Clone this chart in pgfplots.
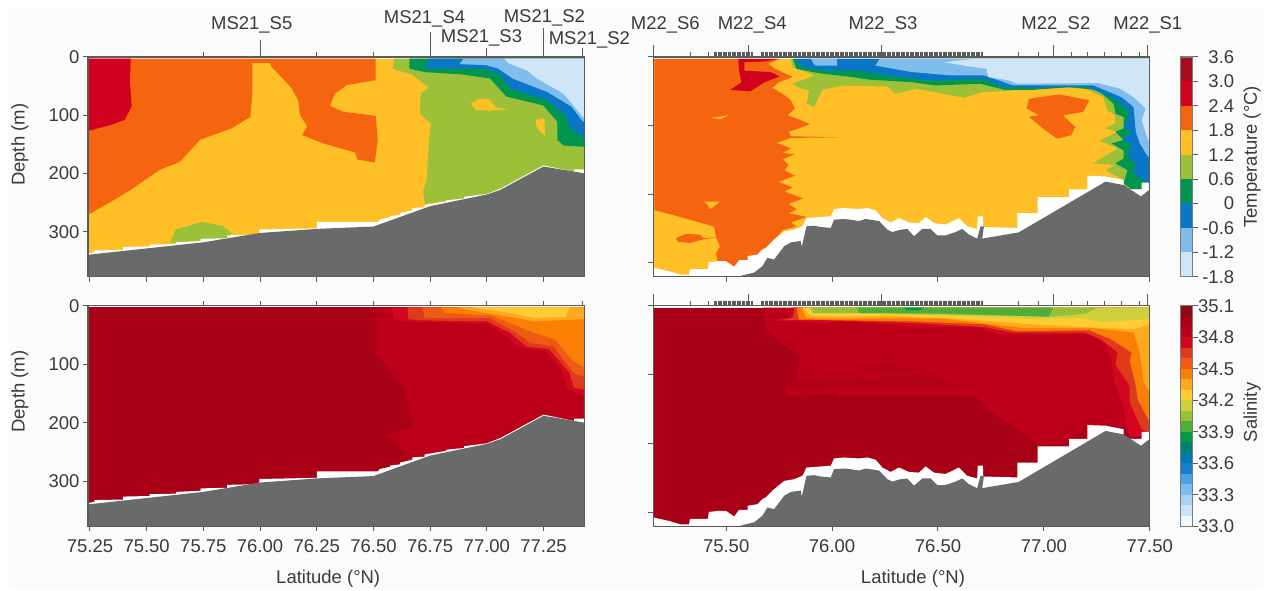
\documentclass[border=0pt]{standalone}
\usepackage{pgfplots}
\pgfplotsset{compat=1.18}
\usepackage{fontspec}
\setmainfont{Liberation Sans}
\definecolor{txt}{HTML}{3A3A3A}
\definecolor{axc}{HTML}{5A5C5C}
\definecolor{bathy}{HTML}{696B6B}
\definecolor{bgc}{HTML}{FBFBFB}
% temperature
\definecolor{t1}{HTML}{CFE6F8}\definecolor{t2}{HTML}{80BDEC}\definecolor{t3}{HTML}{0A76C8}
\definecolor{t4}{HTML}{00964F}\definecolor{t5}{HTML}{9CC138}\definecolor{t6}{HTML}{FFBF26}
\definecolor{t7}{HTML}{F5640F}\definecolor{t8}{HTML}{D0021F}\definecolor{t9}{HTML}{A50D1F}
% salinity (33.0 ... 35.1)
\definecolor{s00}{HTML}{EEF6FE}\definecolor{s01}{HTML}{C9E3F9}\definecolor{s02}{HTML}{A6D2F4}
\definecolor{s03}{HTML}{7FBCEC}\definecolor{s04}{HTML}{4FA0E0}\definecolor{s05}{HTML}{1580D0}
\definecolor{s06}{HTML}{0078B0}\definecolor{s07}{HTML}{008070}\definecolor{s08}{HTML}{009A45}
\definecolor{s09}{HTML}{4FAE3A}\definecolor{s10}{HTML}{98BF38}\definecolor{s11}{HTML}{CFD03C}
\definecolor{s12}{HTML}{FFCD33}\definecolor{s13}{HTML}{FFA91E}\definecolor{s14}{HTML}{FB7F05}
\definecolor{s15}{HTML}{EE5C14}\definecolor{s16}{HTML}{DE3A1C}\definecolor{s17}{HTML}{D2071F}
\definecolor{s18}{HTML}{BC0019}\definecolor{s19}{HTML}{A80016}\definecolor{s20}{HTML}{8B0A14}
\definecolor{smid}{HTML}{B20018}

\newcommand{\poly}[2]{\addplot[fill=#1,draw=none] coordinates {#2} --cycle;}
\newcommand{\lab}{\fontsize{18.5}{20}\selectfont}

\newcommand{\stepA}{\poly{white}{(75.241,337)(75.27,335)(75.27,332)(75.396,331)(75.396,326)(75.513,325)(75.513,322)(75.63,321)(75.63,318)(75.738,316)(75.738,312)(75.855,311)(75.855,306)(75.97,305)(75.997,302)(75.997,296)(76.25,294)(76.25,283)(76.519,283)(76.528,279)(76.573,275)(76.573,273)(76.618,271)(76.618,268)(76.672,263)(76.672,259)(76.726,258)(76.726,254)(76.82,248)(76.82,246)(76.9,243)(76.9,240)(77.0,235)(77.06,226)(77.25,186)(77.385,197)(77.385,193)(77.43,193)(77.43,377)(75.241,377)}}
\newcommand{\bathyA}{\poly{bathy}{(75.241,340)(75.25,339)(75.75,318)(76,302)(76.25,295)(76.5,291)(76.75,256)(77,236)(77.06,228)(77.25,188)(77.42,199)(77.43,200)(77.43,377)(75.241,377)}}
\newcommand{\stepB}{\poly{white}{(75.156,307)(75.23,312)(75.285,317)(75.325,317)(75.329,309)(75.414,309)(75.418,299)(75.467,297.3)(75.498,297.3)(75.538,305.6)(75.561,296)(75.601,296)(75.601,290)(75.648,287.7)(75.671,280.4)(75.687,278)(75.726,266)(75.774,254)(75.821,251.5)(75.86,246.6)(75.879,234.6)(75.994,232)(76.009,221.5)(76.057,220)(76.127,221.5)(76.167,220)(76.206,223.4)(76.237,234.6)(76.277,241)(76.316,234.6)(76.363,241)(76.41,242)(76.442,233)(76.481,242)(76.536,244)(76.599,234.6)(76.638,246.6)(76.685,250.5)(76.688,232)(76.712,232)(76.714,247.6)(76.875,249)(76.875,227.5)(76.971,227.5)(76.971,204)(77.119,204)(77.119,193)(77.205,193)(77.205,173)(77.291,174)(77.376,179)(77.376,193)(77.462,193)(77.462,183)(77.5,183)(77.5,320)(75.156,320)}}
\newcommand{\bathyB}{\poly{bathy}{(75.56,320)(75.577,318)(75.632,314)(75.671,304.6)(75.695,292.5)(75.726,295)(75.774,275.6)(75.805,270)(75.852,268)(75.857,276.6)(75.879,246.6)(75.915,245.7)(75.946,247.6)(75.994,249)(76.009,237)(76.057,236)(76.088,237)(76.127,239)(76.159,236)(76.222,239)(76.261,251.5)(76.284,255)(76.324,251.5)(76.355,250.5)(76.387,261)(76.426,250.5)(76.465,250.5)(76.497,260)(76.536,260)(76.583,255)(76.615,250.5)(76.646,258.7)(76.685,264.5)(76.701,246.6)(76.717,246.6)(76.709,264.5)(76.881,255.5)(77.291,181.6)(77.376,186.5)(77.458,203)(77.496,194)(77.5,192)(77.5,320)}}

\pgfplotsset{
  panel/.style={scale only axis,anchor=south west,width=497pt,y dir=reverse,axis on top,
    axis line style={color=axc,line width=1.2pt},
    tick align=outside,major tick length=5pt,
    tick style={color=axc,line width=1pt},
    tick label style={font=\lab,text=txt},
    xticklabel style={yshift=-5pt},
    label style={font=\lab,text=txt},
    ymin=0,ytick pos=left,xtick pos=lower,xticklabel pos=lower},
  leftp/.style={panel,xmin=75.241,xmax=77.43,ymax=377,height=220pt,
    xtick={75.25,75.5,75.75,76,76.25,76.5,76.75,77,77.25},
    ytick={0,100,200,300},yticklabels={0,100,200,300},
    ylabel={Depth (m)},ylabel style={at={(axis description cs:-0.137,0.6)},anchor=center}},
  rightp/.style={panel,xmin=75.156,xmax=77.5,ymax=320,height=220pt,
    xtick={75.5,76,76.5,77,77.5},
    ytick={0,100,200,300},yticklabels={}},
  rug/.style={scale only axis,anchor=south west,width=497pt,height=220pt,ymin=0,ymax=1,ytick=\empty,
    axis line style={draw=none},tick align=outside,xtick pos=upper,xticklabels={},clip=false,
    tick style={color=axc,line width=0.8pt},major tick length=5pt},
  cbar/.style={scale only axis,anchor=south west,width=12pt,xmin=0,xmax=1,xtick=\empty,
    axis on top,ytick pos=right,yticklabel pos=right,tick align=outside,major tick length=5pt,
    axis line style={color=axc!80,line width=1.3pt},
    tick style={color=axc,line width=1pt},
    tick label style={font=\lab,text=txt},
    yticklabel style={anchor=east,xshift=40pt},
    label style={font=\lab,text=txt}}
}
\newcommand{\ruglong}[1]{\draw[color=axc,line width=1pt] (axis cs:#1,1) -- ++(0pt,12pt);}
\newcommand{\tick}[2]{\draw[color=axc,line width=1pt] (axis cs:#1,1) -- ++(0pt,#2pt);}

\begin{document}
\begin{tikzpicture}[x=1pt,y=1pt]
\path[fill=white] (0,0) rectangle (1264,590);
\path[fill=bgc] (9,0) rectangle (1264,581);

% ---------- Panel A: temperature MS21
\begin{axis}[leftp,at={(88pt,313pt)},xticklabels={}]
\poly{t6}{(75.241,3)(77.43,3)(77.43,377)(75.241,377)}
\poly{t7}{(75.241,3)(76.51,3)(76.51,40)(76.384,48)(76.33,63)(76.308,84)(76.366,94)(76.51,101)(76.519,142)(76.506,181)(76.429,176)(76.42,164)(76.276,148)(76.186,134)(76.208,119)(76.177,100)(76.168,74)(76.136,52)(76.051,17)(76.042,10)(75.966,10)(75.966,63)(75.957,103)(75.871,123)(75.736,142)(75.646,180)(75.556,194)(75.43,228)(75.358,245)(75.241,271)}
\poly{t8}{(75.241,3)(75.43,3)(75.426,40)(75.434,85)(75.403,108)(75.34,117)(75.241,127)}
\poly{t5}{(76.591,3)(76.586,20)(76.672,31)(76.744,52)(76.708,63)(76.704,97)(76.753,114)(76.744,148)(76.735,211)(76.719,231)(76.726,252)(76.88,243)(77,237)(77,377)(77.43,377)(77.43,3)}
\poly{t6}{(76.928,80)(76.969,72)(77.009,72)(77.041,87)(77.095,90)(77.014,92)(76.951,91)}
\poly{t6}{(77.216,108)(77.253,105)(77.257,136)(77.234,128)(77.216,117)}
\poly{t5}{(75.606,316)(75.628,296)(75.745,283)(75.835,290)(75.876,302)(75.853,311)(75.606,319)}
\poly{t4}{(76.658,3)(76.658,20)(76.726,26)(76.888,30)(77.014,37)(77.086,68)(77.248,83)(77.311,111)(77.311,142)(77.338,152)(77.424,154)(77.43,154)(77.43,3)}
\poly{t3}{(76.744,3)(76.726,20)(76.996,20)(77.059,31)(77.104,54)(77.266,74)(77.347,100)(77.37,123)(77.424,137)(77.43,137)(77.43,3)}
\poly{t2}{(76.897,3)(76.879,12.5)(76.996,14)(77.05,20)(77.113,37)(77.266,60)(77.374,85.5)(77.424,111)(77.43,111)(77.43,3)}
\poly{t1}{(77.077,3)(77.095,11)(77.176,23)(77.221,37)(77.338,63)(77.424,103)(77.43,103)(77.43,3)}
\stepA
\bathyA
\end{axis}
\begin{axis}[rug,at={(88pt,313pt)},xmin=75.241,xmax=77.43,xtick={75.75,76.25,76.5}]
\tick{76}{17}
\tick{76.75}{25}
\tick{77}{9}
\tick{77.25}{29}
\tick{77.42}{9}
\end{axis}

% ---------- Panel B: temperature M22
\begin{axis}[rightp,at={(654pt,313pt)},xticklabels={}]
\poly{t6}{(75.156,3)(77.5,3)(77.5,320)(75.156,320)}
\poly{t7}{(75.161,3)(75.748,3)(75.70,10)(75.729,17)(75.814,29)(75.748,37)(75.719,45)(75.776,56)(75.805,63)(75.824,75)(75.79,85)(75.852,92)(75.894,98)(75.843,104)(75.795,109)(75.805,115.5)(76.033,117)(75.805,118)(75.738,125)(75.805,133)(75.767,140)(75.824,141.5)(75.767,149)(75.795,157)(75.776,165)(75.824,173)(75.748,182)(75.814,190)(75.776,196)(75.862,206)(75.795,214)(75.833,222)(75.795,227.5)(75.881,233)(75.805,241)(75.833,247)(75.767,252)(75.729,266)(75.70,278)(75.662,290)(75.548,305)(75.462,302)(75.452,285.5)(75.471,276)(75.452,262)(75.443,247)(75.271,232)(75.161,223)}
\poly{t6}{(75.433,88.4)(75.51,85)(75.471,91)}
\poly{t6}{(75.395,210.6)(75.471,210.6)(75.424,221.7)(75.409,214)}
\poly{t7}{(75.262,264)(75.31,257.5)(75.376,259)(75.395,264)(75.471,262)(75.386,266)(75.329,271)(75.271,269)}
\poly{t7}{(76.929,61)(77.072,54.6)(77.214,63)(77.186,80)(77.09,85)(77.148,102)(77.129,114)(77.062,119)(76.995,104)(76.929,87)(76.976,85)(76.919,75)}
\poly{t8}{(75.557,3)(75.752,3)(75.672,6.8)(75.586,7.7)(75.586,20)(75.71,22)(75.752,28.5)(75.681,37)(75.614,50)(75.519,48)(75.572,37)(75.561,20)}
\poly{t5}{(75.805,3)(75.814,15)(75.919,27)(75.814,39)(75.843,45)(75.891,49)(75.881,68)(75.915,73)(75.953,48)(76.052,41.5)(76.262,43)(76.30,53.6)(76.395,46.4)(76.51,52.7)(76.624,59.4)(76.71,51)(76.814,50)(76.919,46.4)(77.119,45)(77.195,46.4)(77.281,58.5)(77.30,78)(77.338,85)(77.338,97)(77.29,104)(77.348,109)(77.262,122)(77.348,133)(77.234,155)(77.338,157.5)(77.29,165)(77.376,179)(77.376,208)(77.5,208)(77.5,3)}
\poly{t4}{(75.814,3)(75.833,17.4)(75.938,23.7)(76.072,28.5)(76.186,33.3)(76.376,36.7)(76.491,41.5)(76.70,39)(76.814,48)(76.948,48)(77.119,44)(77.253,48)(77.329,68)(77.338,82.6)(77.376,87.4)(77.376,104)(77.338,109)(77.376,121)(77.319,126)(77.376,136)(77.376,148)(77.338,155)(77.395,165)(77.376,184)(77.415,193)(77.5,191)(77.5,3)}
\poly{t3}{(75.824,3)(75.862,15)(75.976,19.8)(76.129,19.8)(76.262,27)(76.443,34)(76.719,32)(76.795,43)(76.948,45)(77.195,43)(77.319,58.5)(77.395,75.4)(77.405,85)(77.376,102)(77.415,109)(77.376,119)(77.415,131)(77.395,143)(77.434,155)(77.424,170)(77.491,184)(77.5,184)(77.5,3)}
\poly{t2}{(75.90,3)(75.919,12.6)(76.024,12.6)(76.024,3)}
\poly{t2}{(76.224,3)(76.205,12.6)(76.376,22)(76.567,27)(76.719,27)(76.786,34)(76.853,41.5)(77.234,41.5)(77.367,58.5)(77.424,73)(77.434,109)(77.453,126)(77.491,145)(77.5,145)(77.5,3)}
\poly{t1}{(76.662,3)(76.529,7.7)(76.624,12.6)(76.729,17.4)(76.738,29.5)(76.834,34)(76.872,39)(77.253,38)(77.357,46)(77.424,58.5)(77.481,75)(77.462,92)(77.491,121)(77.5,121)(77.5,3)}
\stepB
\bathyB
\end{axis}
\begin{axis}[rug,at={(654pt,313pt)},xmin=75.156,xmax=77.5,
  xtick={75.332,75.416,75.443,75.449,...,75.624,75.666,75.672,...,76.71,76.881,76.973,77.129,77.205,77.287,77.367,77.453}]
\ruglong{75.157}\ruglong{75.605}\ruglong{76.233}\ruglong{77.047}\ruglong{77.491}
\end{axis}

% ---------- Panel C: salinity MS21
\begin{axis}[leftp,at={(88pt,63pt)},height=221pt,
  xticklabels={75.25,75.50,75.75,76.00,76.25,76.50,76.75,77.00,77.25},
  xlabel={Latitude (°N)},xlabel style={at={(axis description cs:0.484,-0.238)},anchor=center},
  ylabel style={at={(axis description cs:-0.137,0.61)},anchor=center}]
\poly{s19}{(75.241,3)(77.43,3)(77.43,377)(75.241,377)}
\poly{s18}{(76.506,3)(76.514,46.6)(76.51,80.7)(76.582,115)(76.636,143)(76.659,183)(76.676,206)(76.555,223)(76.627,240)(76.654,262.5)(76.582,271)(76.7,290)(77.43,377)(77.43,3)}
\poly{s17}{(76.582,3)(76.591,23)(76.654,27)(77.005,32)(77.086,52)(77.149,74)(77.257,77)(77.329,109)(77.356,143)(77.419,152)(77.43,152)(77.43,3)}
\poly{s16}{(76.65,3)(76.654,23)(76.708,25)(77.005,27)(77.104,47)(77.176,70)(77.275,74)(77.365,115)(77.383,140)(77.43,143)(77.43,3)}
\poly{s15}{(76.717,3)(76.726,21)(77.014,21)(77.122,44)(77.194,64)(77.293,69)(77.383,115)(77.43,122)(77.43,3)}
\poly{s14}{(76.798,3)(76.816,12.5)(77.023,17)(77.194,44)(77.302,58)(77.374,92)(77.43,106)(77.43,3)}
\poly{s13}{(76.87,3)(76.96,10)(77.158,23)(77.212,27)(77.43,23)(77.43,3)}
\poly{s12}{(76.942,3)(77.104,12.5)(77.212,21)(77.347,19)(77.365,3)}
\stepA
\bathyA
\end{axis}
\begin{axis}[rug,at={(88pt,63pt)},height=221pt,xmin=75.241,xmax=77.43,xtick={75.75,76,76.25,76.5,76.75,77,77.25,77.42}]
\end{axis}

% ---------- Panel D: salinity M22
\begin{axis}[rightp,at={(654pt,63pt)},height=221pt,
  xticklabels={75.50,76.00,76.50,77.00,77.50},
  xlabel={Latitude (°N)},xlabel style={at={(axis description cs:0.523,-0.238)},anchor=center}]
\poly{s19}{(75.156,3)(77.5,3)(77.5,320)(75.156,320)}
\poly{s18}{(75.671,3)(75.69,37)(75.843,73)(75.833,104)(75.776,121)(75.805,131)(76.014,126)(76.033,131)(76.681,131)(76.757,155)(76.90,184)(76.971,203)(77.119,196)(77.205,174)(77.5,179)(77.5,3)}
\poly{smid}{(76.052,88.5)(76.262,86.5)(76.433,92)(76.262,97)}
\poly{smid}{(75.776,111.5)(76.11,107)(76.433,99.5)(76.624,116)(76.70,116)(75.805,121)}
\poly{s17}{(75.814,3)(75.795,18)(75.71,21)(75.957,25)(76.052,22.6)(76.376,30)(76.70,32)(76.795,42)(77.2145,42)(77.291,56)(77.319,78)(77.329,107)(77.376,145)(77.395,179)(77.405,191)(77.5,188)(77.5,3)}
\poly{s16}{(75.824,3)(75.814,18)(75.748,21)(75.957,21)(76.376,25)(76.719,31)(76.853,39)(77.195,39)(77.272,49)(77.348,68)(77.338,85)(77.405,116)(77.405,140)(77.462,179)(77.5,184)(77.5,3)}
\poly{s14}{(75.833,3)(75.843,20)(76.033,21)(76.376,22.6)(76.719,27)(76.872,37)(77.2145,35.6)(77.319,49)(77.415,68)(77.405,80)(77.434,116)(77.443,136)(77.5,169)(77.5,3)}
\poly{s13}{(75.852,3)(75.881,18)(76.033,19)(76.262,18)(76.529,19)(76.757,27)(76.891,32)(77.2145,32)(77.424,39)(77.453,68)(77.472,111.5)(77.5,126)(77.5,3)}
\poly{s12}{(75.862,3)(75.90,15)(76.052,16)(76.262,14.4)(76.529,18)(76.757,22.6)(76.948,27)(77.253,32)(77.424,34)(77.5,27)(77.5,3)}
\poly{s11}{(75.89,3)(75.91,11.5)(76.11,11.5)(76.529,14.4)(76.948,19)(77.195,18)(77.272,24)(77.5,19)(77.5,3)}
\poly{s10}{(75.90,3)(75.91,10.6)(76.129,10.6)(76.529,12.5)(77.043,16)(77.195,11.5)(77.253,3)}
\poly{s09}{(76.119,3)(76.129,10.6)(76.529,11.5)(77.024,16)(77.043,3)}
\poly{s08}{(76.338,3)(76.357,6.7)(76.414,6.7)(76.433,3)}
\stepB
\bathyB
\end{axis}
\begin{axis}[rug,at={(654pt,63pt)},height=221pt,xmin=75.156,xmax=77.5,
  xtick={75.332,75.416,75.443,75.449,...,75.624,75.666,75.672,...,76.71,76.881,76.973,77.129,77.205,77.287,77.367,77.453}]
\ruglong{75.157}\ruglong{75.605}\ruglong{76.233}\ruglong{77.047}\ruglong{77.491}
\end{axis}

% ---------- Colour bars
\begin{axis}[cbar,at={(1182pt,313pt)},height=220pt,ymin=-1.8,ymax=3.6,
  ytick={-1.8,-1.2,-0.6,0,0.6,1.2,1.8,2.4,3.0,3.6},
  yticklabels={-1.8,-1.2,-0.6,0,0.6,1.2,1.8,2.4,3.0,3.6},
  ylabel={Temperature (°C)},ylabel style={at={(axis description cs:5.95,0.545)},anchor=center}]
\poly{t1}{(0,-1.8)(1,-1.8)(1,-1.2)(0,-1.2)}
\poly{t2}{(0,-1.2)(1,-1.2)(1,-0.6)(0,-0.6)}
\poly{t3}{(0,-0.6)(1,-0.6)(1,0)(0,0)}
\poly{t4}{(0,0)(1,0)(1,0.6)(0,0.6)}
\poly{t5}{(0,0.6)(1,0.6)(1,1.2)(0,1.2)}
\poly{t6}{(0,1.2)(1,1.2)(1,1.8)(0,1.8)}
\poly{t7}{(0,1.8)(1,1.8)(1,2.4)(0,2.4)}
\poly{t8}{(0,2.4)(1,2.4)(1,3.0)(0,3.0)}
\poly{t9}{(0,3.0)(1,3.0)(1,3.6)(0,3.6)}
\end{axis}
\begin{axis}[cbar,at={(1182pt,63pt)},height=221pt,ymin=33,ymax=35.1,
  ytick={33,33.3,33.6,33.9,34.2,34.5,34.8,35.1},
  yticklabels={33.0,33.3,33.6,33.9,34.2,34.5,34.8,35.1},
  ylabel={Salinity},ylabel style={at={(axis description cs:5.95,0.516)},anchor=center}]
\poly{s00}{(0,33.0)(1,33.0)(1,33.1)(0,33.1)}
\poly{s01}{(0,33.1)(1,33.1)(1,33.2)(0,33.2)}
\poly{s02}{(0,33.2)(1,33.2)(1,33.3)(0,33.3)}
\poly{s03}{(0,33.3)(1,33.3)(1,33.4)(0,33.4)}
\poly{s04}{(0,33.4)(1,33.4)(1,33.5)(0,33.5)}
\poly{s05}{(0,33.5)(1,33.5)(1,33.6)(0,33.6)}
\poly{s06}{(0,33.6)(1,33.6)(1,33.7)(0,33.7)}
\poly{s07}{(0,33.7)(1,33.7)(1,33.8)(0,33.8)}
\poly{s08}{(0,33.8)(1,33.8)(1,33.9)(0,33.9)}
\poly{s09}{(0,33.9)(1,33.9)(1,34.0)(0,34.0)}
\poly{s10}{(0,34.0)(1,34.0)(1,34.1)(0,34.1)}
\poly{s11}{(0,34.1)(1,34.1)(1,34.2)(0,34.2)}
\poly{s12}{(0,34.2)(1,34.2)(1,34.3)(0,34.3)}
\poly{s13}{(0,34.3)(1,34.3)(1,34.4)(0,34.4)}
\poly{s14}{(0,34.4)(1,34.4)(1,34.5)(0,34.5)}
\poly{s15}{(0,34.5)(1,34.5)(1,34.6)(0,34.6)}
\poly{s16}{(0,34.6)(1,34.6)(1,34.7)(0,34.7)}
\poly{s17}{(0,34.7)(1,34.7)(1,34.8)(0,34.8)}
\poly{s18}{(0,34.8)(1,34.8)(1,34.9)(0,34.9)}
\poly{s19}{(0,34.9)(1,34.9)(1,35.0)(0,35.0)}
\poly{s20}{(0,35.0)(1,35.0)(1,35.1)(0,35.1)}
\end{axis}

% ---------- Station names
\begin{scope}[every node/.style={font=\lab,text=txt,inner sep=0pt}]
\node at (252,565) {MS21\_S5};
\node at (425,571) {MS21\_S4};
\node at (482,552) {MS21\_S3};
\node at (545,572) {MS21\_S2};
\node at (590,550) {MS21\_S2};
\node at (666,565) {M22\_S6};
\node at (753,565) {M22\_S4};
\node at (884,565) {M22\_S3};
\node at (1057,565) {M22\_S2};
\node at (1149,565) {M22\_S1};
\end{scope}
\end{tikzpicture}
\end{document}
